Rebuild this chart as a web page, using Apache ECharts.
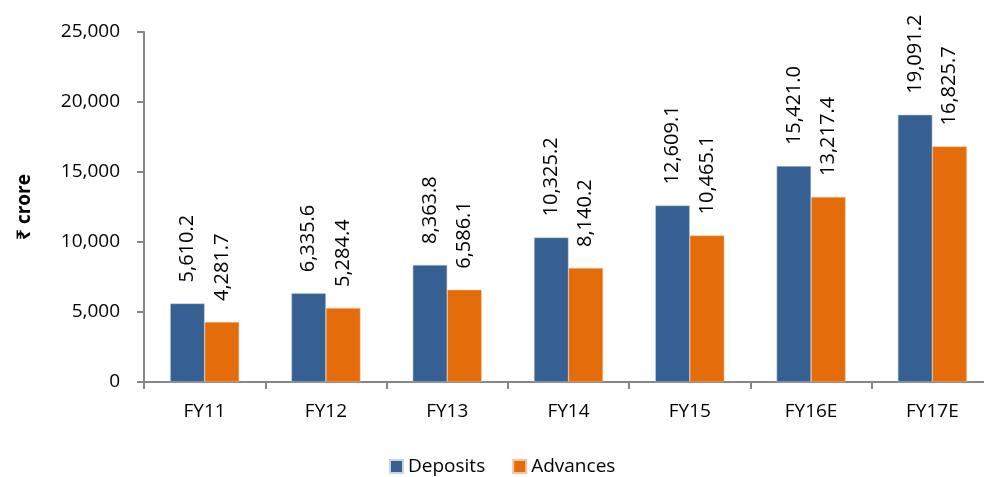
<!DOCTYPE html>
<html>
<head>
<meta charset="utf-8">
<script src="https://cdn.jsdelivr.net/npm/echarts@6/dist/echarts.min.js"></script>
<style>
html, body { margin: 0; padding: 0; background: #fff; overflow: hidden; }
/* plot runs slightly past the right edge of the window, as in the reference */
#chart { width: 993px; height: 477px; }
</style>
</head>
<body>
<div id="chart"></div>
<script>
// data
const years = ['FY11', 'FY12', 'FY13', 'FY14', 'FY15', 'FY16E', 'FY17E'];
const deposits = [5610.2, 6335.6, 8363.8, 10325.2, 12609.1, 15421.0, 19091.2];
const advances = [4281.7, 5284.4, 6586.1, 8140.2, 10465.1, 13217.4, 16825.7];

const font = '"Open Sans", "Noto Sans", sans-serif';
const fmt = v => v.toLocaleString('en-US', { minimumFractionDigits: 1, maximumFractionDigits: 1 });

let myChart = echarts.init(document.getElementById('chart'));

let barLabel = {
	show: true,
	position: 'top',
	rotate: 90,
	align: 'left',
	verticalAlign: 'middle',
	distance: 21,
	color: '#000',
	fontSize: 20,
	fontFamily: font,
	formatter: p => fmt(p.value)
};

let option = {
	animation: false,
	grid: { left: 144, right: 0, top: 32, bottom: 95 },
	legend: {
		bottom: -4,
		left: 384,
		itemWidth: 13,
		itemHeight: 13,
		itemGap: 27,
		icon: 'rect',
		textStyle: { fontSize: 19, color: '#000', fontFamily: font }
	},
	xAxis: {
		type: 'category',
		data: years,
		axisLine: { lineStyle: { color: '#868686', width: 2 } },
		axisTick: { show: true, length: 7, lineStyle: { color: '#868686', width: 2 } },
		axisLabel: { color: '#000', fontSize: 19, fontFamily: font, margin: 20 }
	},
	yAxis: {
		type: 'value',
		min: 0,
		max: 25000,
		interval: 5000,
		name: '₹ crore',
		nameLocation: 'middle',
		nameGap: 110,
		nameTextStyle: { fontSize: 19, fontWeight: 'bold', color: '#000', fontFamily: font },
		axisLine: { show: true, lineStyle: { color: '#868686', width: 2 } },
		axisTick: { show: true, length: 7, lineStyle: { color: '#868686', width: 2 } },
		splitLine: { show: false },
		axisLabel: {
			color: '#000', fontSize: 19, fontFamily: font, margin: 24,
			formatter: v => v.toLocaleString('en-US')
		}
	},
	series: [
		{
			name: 'Deposits',
			type: 'bar',
			data: deposits,
			barWidth: 34.5,
			barGap: '0%',
			itemStyle: { color: '#376092', borderColor: '#c8d3e3', borderWidth: 0.5 },
			label: barLabel
		},
		{
			name: 'Advances',
			type: 'bar',
			data: advances,
			barWidth: 34.5,
			itemStyle: { color: '#e46c0a', borderColor: '#f2c4a0', borderWidth: 0.5 },
			label: barLabel
		}
	]
};
myChart.setOption(option);
</script>
</body>
</html>
